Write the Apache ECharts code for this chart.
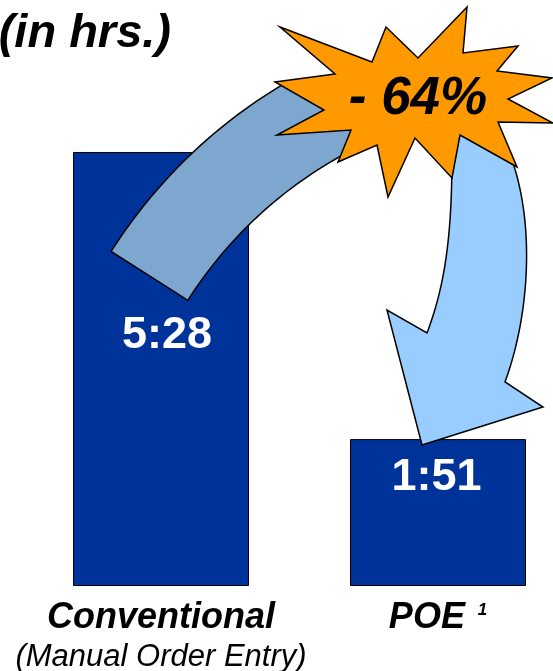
<!DOCTYPE html>
<html>
<head>
<meta charset="utf-8">
<script src="https://cdn.jsdelivr.net/npm/echarts@6/dist/echarts.min.js"></script>
<style>
  html, body { margin: 0; padding: 0; background: #ffffff; }
  #chart { width: 553px; height: 671px; }
</style>
</head>
<body>
<div id="chart"></div>
<script>
// ---- data ----
var categories = ['Conventional', 'POE'];
var subtitles = ['(Manual Order Entry)', ''];
var footnotes = ['', '1'];
var minutes = [328, 111];           // 5:28 and 1:51 hours
var unitTitle = '(in hrs.)';
var changeText = '- 64%';

function toHM(m) {
  var h = Math.floor(m / 60), r = m % 60;
  return h + ':' + (r < 10 ? '0' : '') + r;
}

var FONT = '"Liberation Sans", Arial, sans-serif';
var labelPos = [[94, 184], [86.5, 38]]; // label centre inside each bar (px from bar's top-left)

// ---- decoration geometry helpers ----
function arcPts(cx, cy, r, p0, p1, n) {
  var a0 = Math.atan2(p0[1] - cy, p0[0] - cx), a1 = Math.atan2(p1[1] - cy, p1[0] - cx);
  var out = [];
  for (var i = 0; i <= n; i++) {
    var a = a0 + (a1 - a0) * i / n;
    out.push([cx + r * Math.cos(a), cy + r * Math.sin(a)]);
  }
  return out;
}
function bez(p0, p1, p2, p3, n) {
  var out = [];
  for (var i = 0; i <= n; i++) {
    var t = i / n, u = 1 - t;
    out.push([
      u*u*u*p0[0] + 3*u*u*t*p1[0] + 3*u*t*t*p2[0] + t*t*t*p3[0],
      u*u*u*p0[1] + 3*u*u*t*p1[1] + 3*u*t*t*p2[1] + t*t*t*p3[1]
    ]);
  }
  return out;
}

var leftArrow = [].concat(
  arcPts(549, 530, 519, [112, 252], [282, 84], 40),
  [[390, 110]],
  arcPts(549, 530, 428, [355, 149], [189, 301], 40)
);
var rightArrow = [].concat(
  bez([451, 112], [455, 230], [445, 285], [427, 333], 40),
  [[387, 310], [422, 445], [543, 407]],
  bez([505, 382], [535, 300], [535, 190], [497, 128], 40),
  [[490, 110]]
);
var starPts = [
  [280,27],[372,62],[386,27],[418,58],[467,7],[463,53],[518,46],[497,71],
  [552,78],[508,99],[553,123],[498,122],[517,167],[460,135],[452,178],
  [415,138],[388,197],[377,145],[338,162],[351,130],[277,135],[324,110],
  [275,82],[335,74]
];

var chart = echarts.init(document.getElementById('chart'), null, { renderer: 'canvas' });

var option = {
  animation: false,
  backgroundColor: '#ffffff',
  grid: { left: 161, right: 115, top: 56.7, bottom: 85, outerBoundsMode: 'none' },
  xAxis: {
    type: 'category',
    data: categories,
    boundaryGap: false,
    axisLine: { show: false },
    axisTick: { show: false },
    splitLine: { show: false },
    axisLabel: {
      interval: 0,
      margin: 12,
      formatter: function (v, i) {
        var s = '{b|' + v + '}';
        if (footnotes[i]) s += '{sp| }{sup|' + footnotes[i] + '}';
        if (subtitles[i]) s += '\n{s|' + subtitles[i] + '}';
        return s;
      },
      rich: {
        b: { fontFamily: FONT, fontSize: 36, fontWeight: 'bold', fontStyle: 'italic', color: '#000', lineHeight: 40 },
        sp: { fontFamily: FONT, fontSize: 46, lineHeight: 40 },
        sup: { fontFamily: FONT, fontSize: 17, fontWeight: 'bold', fontStyle: 'italic', color: '#000', lineHeight: 40, padding: [0, 0, 16, 0] },
        s: { fontFamily: FONT, fontSize: 31, fontStyle: 'italic', color: '#000', lineHeight: 39 }
      }
    }
  },
  yAxis: { type: 'value', min: 0, max: 400, show: false, splitLine: { show: false } },
  series: [{
    type: 'bar',
    barWidth: 176,
    clip: false,
    z: 2,
    itemStyle: { color: '#003399', borderColor: '#000000', borderWidth: 1 },
    label: {
      show: true,
      align: 'center',
      verticalAlign: 'middle',
      fontFamily: FONT,
      fontSize: 45,
      fontWeight: 'bold',
      color: '#ffffff',
      formatter: function (p) { return toHM(p.value); }
    },
    data: minutes.map(function (v, i) {
      return { value: v, label: { position: labelPos[i] } };
    })
  }],
  graphic: [
    {
      type: 'polygon', z: 10,
      shape: { points: leftArrow },
      style: { fill: '#7DA7CF', stroke: '#000', lineWidth: 1.5 }
    },
    {
      type: 'polygon', z: 10,
      shape: { points: rightArrow },
      style: { fill: '#99CCFF', stroke: '#000', lineWidth: 1.5 }
    },
    {
      type: 'polygon', z: 20,
      shape: { points: starPts },
      style: { fill: '#FF9900', stroke: '#000', lineWidth: 1.5 }
    },
    {
      type: 'text', z: 30, x: 418, y: 99,
      style: {
        text: changeText, fill: '#000', font: 'italic bold 53px ' + FONT,
        align: 'center', verticalAlign: 'middle'
      }
    },
    {
      type: 'text', z: 30, x: 171, y: 34,
      style: {
        text: unitTitle, fill: '#000', font: 'italic bold 47px ' + FONT,
        align: 'right', verticalAlign: 'middle'
      }
    }
  ]
};
chart.setOption(option);
</script>
</body>
</html>
